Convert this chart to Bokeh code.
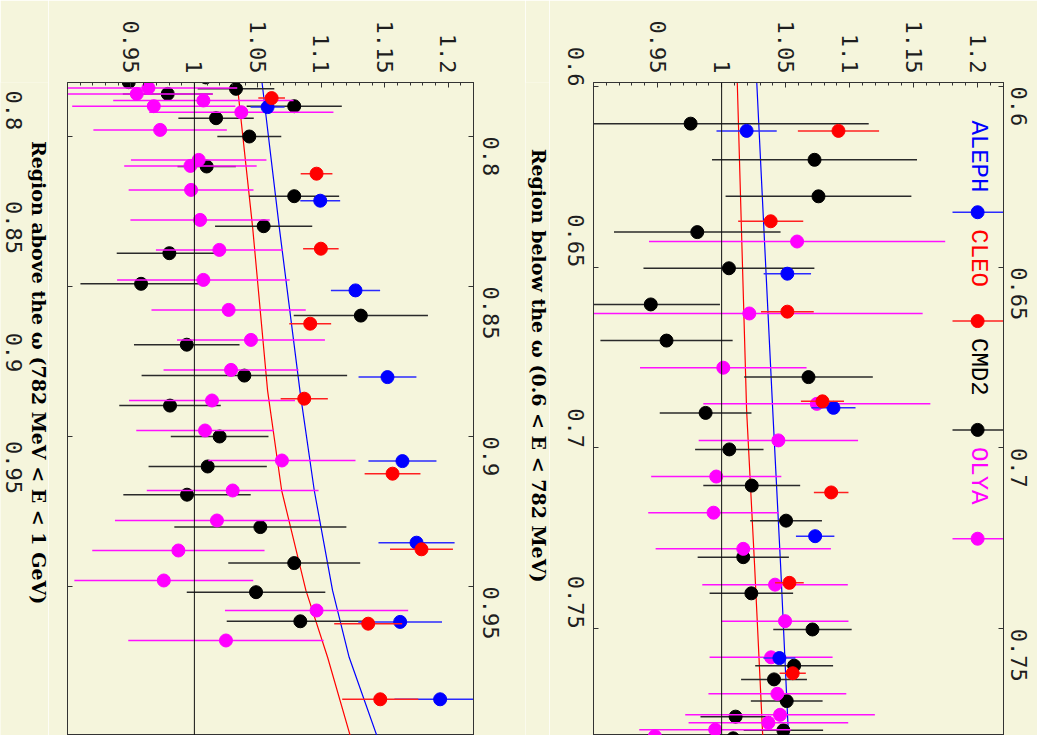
import math
from bokeh.plotting import figure
from bokeh.models import Range1d, FixedTicker, LinearAxis, CustomJSTickFormatter, Label, Span
from bokeh.core.properties import value
from bokeh.layouts import row
from bokeh.embed import file_html
from bokeh.resources import INLINE

# ---------------- data (energy in GeV, ratio, horizontal error) ----------------
aleph_E = [0.6123, 0.6518, 0.6889, 0.7244, 0.7581, 0.7902, 0.8214, 0.8513, 0.8802, 0.9082, 0.9354, 0.9618, 0.9876]
aleph_R = [1.0195, 1.0513, 1.0873, 1.0730, 1.0451, 1.0577, 1.0992, 1.1270, 1.1522, 1.1640, 1.1751, 1.1622, 1.1937]
aleph_err = [0.0235, 0.0185, 0.0172, 0.0150, 0.0125, 0.0134, 0.0157, 0.0194, 0.0228, 0.0268, 0.0300, 0.0330, 0.0360]

cleo_E = [0.6123, 0.6373, 0.6623, 0.6871, 0.7123, 0.7373, 0.7623, 0.7872, 0.8124, 0.8374, 0.8624, 0.8874, 0.9124, 0.9376, 0.9624, 0.9876]
cleo_R = [1.0912, 1.0383, 1.0513, 1.0787, 1.0855, 1.0529, 1.0555, 1.0609, 1.0963, 1.0997, 1.0913, 1.0866, 1.1562, 1.1790, 1.1370, 1.1465]
cleo_err = [0.0317, 0.0254, 0.0206, 0.0168, 0.0135, 0.0112, 0.0102, 0.0105, 0.0125, 0.0140, 0.0165, 0.0186, 0.0220, 0.0248, 0.0268, 0.0300]

cmd2_E = [0.6103, 0.6203, 0.6304, 0.6403, 0.6503, 0.6603, 0.6703, 0.6804, 0.6903, 0.7004,
          0.7104, 0.7201, 0.7302, 0.7402, 0.7502, 0.7602, 0.7640, 0.7700, 0.7743, 0.7781,
          0.7803, 0.7819, 0.7841, 0.7858, 0.7899, 0.7939, 0.8000, 0.8100, 0.8199, 0.8299,
          0.8389, 0.8491, 0.8597, 0.8694, 0.8797, 0.8897, 0.9000, 0.9100, 0.9194, 0.9302,
          0.9422, 0.9519, 0.9616]
cmd2_R = [0.9758, 1.0725, 1.0756, 0.9810, 1.0057, 0.9447, 0.9570, 1.0678, 0.9875, 1.0060,
          1.0235, 1.0503, 1.0169, 1.0232, 1.0709, 1.0566, 1.0409, 1.0508, 1.0109, 1.0482,
          1.0090, 0.9483, 1.0328, 0.9790, 1.0787, 1.0171, 1.0433, 1.0097, 1.0787, 1.0546,
          0.9803, 0.9580, 1.1312, 0.9940, 1.0394, 0.9808, 1.0199, 1.0105, 0.9942, 1.0520,
          1.0787, 1.0486, 1.0835]
cmd2_err = [0.139, 0.080, 0.0725, 0.065, 0.0667, 0.054, 0.0516, 0.0502, 0.0358, 0.0267,
            0.0378, 0.028, 0.0356, 0.0326, 0.0306, 0.0304, 0.0257, 0.028, 0.0274, 0.031,
            0.030, 0.035, 0.0302, 0.0354, 0.0375, 0.0297, 0.0252, 0.023, 0.0354, 0.0383,
            0.0415, 0.0478, 0.0529, 0.0416, 0.081, 0.040, 0.0385, 0.0466, 0.0502, 0.0678,
            0.052, 0.0546, 0.058]

olya_E = [0.6429, 0.6628, 0.6778, 0.6878, 0.6979, 0.7079, 0.7179, 0.7279, 0.7378, 0.7479,
          0.7579, 0.7680, 0.7738, 0.7760, 0.7779, 0.7797, 0.7838, 0.7858, 0.7880, 0.7899,
          0.7919, 0.7978, 0.8078, 0.8098, 0.8178, 0.8278, 0.8378, 0.8478, 0.8578, 0.8678,
          0.8778, 0.8880, 0.8980, 0.9080, 0.9180, 0.9280, 0.9380, 0.9480, 0.9580, 0.9680]
olya_R = [1.0589, 1.0216, 1.0013, 1.0743, 1.0443, 0.9958, 0.9937, 1.0169, 1.0417, 1.0495,
          1.0386, 1.0435, 1.0456, 1.0365, 0.9950, 0.9479, 0.9638, 0.9546, 1.0071, 0.9680,
          1.0370, 0.9730, 1.0034, 0.9969, 0.9974, 1.0045, 1.0197, 1.0071, 1.0270, 1.0446,
          1.0289, 1.0139, 1.0084, 1.0690, 1.0302, 1.0178, 0.9874, 0.9759, 1.0963, 1.0249]
olya_err = [0.1156, 0.1353, 0.065, 0.0886, 0.0622, 0.0508, 0.051, 0.0684, 0.0568, 0.0495,
            0.048, 0.0538, 0.074, 0.0623, 0.0593, 0.06, 0.07, 0.06, 0.0711, 0.0643,
            0.0726, 0.0526, 0.0534, 0.0522, 0.0492, 0.0549, 0.05, 0.068, 0.0608, 0.0583,
            0.0532, 0.0654, 0.0542, 0.058, 0.0677, 0.0804, 0.0679, 0.0705, 0.0722, 0.077]

# theory curves
blue_curve_E = [0.5988, 0.6896, 0.7330, 0.7790, 0.7819, 0.8302, 0.8857, 0.9180, 0.9513, 0.9736, 0.9997]
blue_curve_R = [1.0274, 1.0399, 1.0461, 1.0521, 1.0533, 1.0669, 1.0835, 1.0945, 1.1089, 1.1220, 1.1438]
red_curve_E = [0.5988, 0.6896, 0.7330, 0.7790, 0.7819, 0.8302, 0.8847, 0.9180, 0.9513, 0.9736, 0.9997]
red_curve_R = [1.0122, 1.0195, 1.0258, 1.0320, 1.0336, 1.0459, 1.0577, 1.0688, 1.0879, 1.1050, 1.1228]

ratio_ticks = [0.95, 1.0, 1.05, 1.1, 1.15, 1.2]
below_ticks = [0.6, 0.65, 0.7, 0.75]
above_ticks = [0.8, 0.85, 0.9, 0.95]
edge_labels = ["0.8", "0.85", "0.9", "0.95"]
legend_names = ["ALEPH", "CLEO", "CMD2", "OLYA"]
title_below = "Region below the ω (0.6 < E < 782 MeV)"
title_above = "Region above the ω (782 MeV < E < 1 GeV)"

# ---------------- style ----------------
BG = "#f5f5dc"
COL = {"ALEPH": "#0000ff", "CLEO": "#ff0000", "CMD2": "#000000", "OLYA": "#ff00ff"}
BARCOL = {"ALEPH": "#2a2aff", "CLEO": "#ff2020", "CMD2": "#2a2a2a", "OLYA": "#ff10ff"}
TICKFONT = "DejaVu Sans Mono"
TICKSIZE = "22px"
TITLEFONT = "DejaVu Serif"
TITLESIZE = "19px"
ROT = -math.pi / 2
FMT_CODE = "return String(Math.round(tick*1000)/1000);"

series = [
    ("CMD2", cmd2_E, cmd2_R, cmd2_err),
    ("OLYA", olya_E, olya_R, olya_err),
    ("ALEPH", aleph_E, aleph_R, aleph_err),
    ("CLEO", cleo_E, cleo_R, cleo_err),
]

minor_r = [round(0.9 + 0.01 * k, 2) for k in range(1, 33)]
minor_r = [m for m in minor_r if all(abs(m - t) > 1e-6 for t in ratio_ticks)]


def style_axis(ax, standoff):
    ax.major_label_orientation = ROT
    ax.major_label_text_font = TICKFONT
    ax.major_label_text_font_size = TICKSIZE
    ax.major_label_text_color = "#1e1e1e"
    ax.major_label_standoff = standoff
    ax.axis_line_color = "#333333"
    ax.major_tick_line_color = "#333333"
    ax.minor_tick_line_color = "#333333"
    ax.major_tick_in = 5
    ax.major_tick_out = 0
    ax.minor_tick_in = 3
    ax.minor_tick_out = 0


def make_fig(width, ml, mr, yr, eticks, left_labels, left_standoff, right_standoff):
    p = figure(width=width, height=735, x_range=Range1d(0.9, 1.22), y_range=Range1d(*yr),
               x_axis_location="above", y_axis_location="left",
               toolbar_location=None, output_backend="svg",
               min_border_left=ml, min_border_right=mr, min_border_top=82, min_border_bottom=0,
               background_fill_color=BG, border_fill_color=BG, outline_line_color="#333333")
    p.grid.visible = False
    xa = p.xaxis[0]
    xa.ticker = FixedTicker(ticks=ratio_ticks, minor_ticks=minor_r)
    xa.formatter = CustomJSTickFormatter(code=FMT_CODE)
    style_axis(xa, 9)
    ya = p.yaxis[0]
    ya.ticker = FixedTicker(ticks=eticks, minor_ticks=[])
    style_axis(ya, left_standoff)
    if left_labels:
        ya.formatter = CustomJSTickFormatter(code=FMT_CODE)
    else:
        ya.formatter = CustomJSTickFormatter(code="return '';")
        ya.major_label_text_font_size = "0px"
    ra = LinearAxis(ticker=FixedTicker(ticks=eticks, minor_ticks=[]),
                    formatter=CustomJSTickFormatter(code=FMT_CODE))
    style_axis(ra, right_standoff)
    p.add_layout(ra, "right")

    p.add_layout(Span(location=1.0, dimension="height", line_color="#111111", line_width=1))
    p.line(blue_curve_R, blue_curve_E, line_color="#0000ff", line_width=1.2)
    p.line(red_curve_R, red_curve_E, line_color="#ff0000", line_width=1.2)
    for name, E, R, err in series:
        x0 = [r - e for r, e in zip(R, err)]
        x1 = [r + e for r, e in zip(R, err)]
        p.segment(x0=x0, x1=x1, y0=E, y1=E, line_color=BARCOL[name], line_width=1.5)
        p.scatter(x=R, y=E, size=13, marker="circle", fill_color=COL[name], line_color=COL[name])
    return p


def text_strip(width, y_range):
    s = figure(width=width, height=735, x_range=Range1d(0, width), y_range=y_range,
               x_axis_location=None, y_axis_location=None, toolbar_location=None,
               output_backend="svg", min_border_left=0, min_border_right=0,
               min_border_top=82, min_border_bottom=0,
               background_fill_color=BG, border_fill_color=BG, outline_line_color=None)
    s.grid.visible = False
    return s


# left panel: region above the omega ; right panel: region below the omega
p1 = make_fig(477, 19, 52, (0.99967, 0.782), above_ticks, False, 0, 17)
p2 = make_fig(488, 44, 34, (0.77952, 0.59892), below_ticks, True, 18, 15)

# strip A: left-edge energy labels + title of the left panel
A = text_strip(48, p1.y_range)
A.text(x=[13] * 4, y=[0.7913, 0.8303, 0.8720, 0.9103], text=edge_labels, angle=ROT,
       text_align="center", text_baseline="middle", text_font=value(TICKFONT),
       text_font_size="22px", text_color="#1e1e1e")
A.text(x=[38], y=[0.8787], text=[title_above], angle=ROT, text_align="center",
       text_baseline="middle", text_font=value(TITLEFONT), text_font_style="bold",
       text_font_size=TITLESIZE, text_color="#000000")

# strip B: title of the right panel
B = text_strip(24, p2.y_range)
B.text(x=[13], y=[0.6772], text=[title_below], angle=ROT, text_align="center",
       text_baseline="middle", text_font=value(TITLEFONT), text_font_style="bold",
       text_font_size=TITLESIZE, text_color="#000000")

# legend in right panel
leg_top, leg_step, leg_mk = 0.6094, 0.0301, 0.0254
leg_x, leg_line0 = 1.2005, 1.1802
for i, name in enumerate(legend_names):
    yt = leg_top + i * leg_step
    p2.add_layout(Label(x=leg_x, y=yt, text=name, angle=ROT, text_align="left",
                        text_baseline="middle", text_font="Liberation Mono",
                        text_font_size="24px", text_color=COL[name]))
    p2.segment(x0=[leg_line0], x1=[1.22], y0=[yt + leg_mk], y1=[yt + leg_mk],
               line_color=BARCOL[name], line_width=1.5)
    p2.scatter(x=[leg_x - 0.0007], y=[yt + leg_mk], size=13, marker="circle",
               fill_color=COL[name], line_color=COL[name])

layout = row(A, p1, B, p2)
open("out.html", "w").write(file_html(layout, INLINE))
